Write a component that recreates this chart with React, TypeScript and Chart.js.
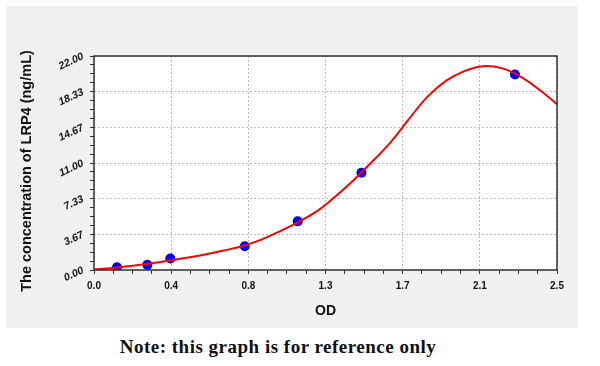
import React, { useEffect, useRef } from "react";
import { Chart, registerables } from "chart.js";

Chart.register(...registerables);

// Fitted standard curve
const curveOD = [0, 0.1, 0.2, 0.3, 0.4, 0.5, 0.6, 0.7, 0.8, 0.9, 1.0, 1.1, 1.2, 1.3, 1.4, 1.5, 1.6, 1.7, 1.8, 1.9, 2.0, 2.1, 2.2, 2.3, 2.4, 2.5];
const curveConc = [0.05, 0.2, 0.42, 0.67, 0.95, 1.25, 1.6, 2.0, 2.45, 3.1, 3.95, 4.9, 6.0, 7.5, 9.2, 11.1, 13.1, 15.5, 17.8, 19.45, 20.45, 20.95, 20.75, 19.9, 18.6, 17.05];

// Measured standards
const pointOD = [0.124, 0.288, 0.412, 0.814, 1.1, 1.444, 2.273];
const pointConc = [0.29, 0.53, 1.18, 2.44, 5.0, 10.0, 20.1];

// Axes
const xTickLabels = ["0.0", "0.4", "0.8", "1.3", "1.7", "2.1", "2.5"];
const yTickLabels = ["0.00", "3.67", "7.33", "11.00", "14.67", "18.33", "22.00"];
const X_MAX = 2.5;
const Y_MAX = 22;
const MINOR = 4;

const xTitle = "OD";
const yTitle = "The concentration of LRP4 (ng/mL)";
const noteText = "Note: this graph is for reference only";

const SANS = "'Liberation Sans', Arial, sans-serif";

function majorMinorTicks(max: number, majors: number) {
  const n = majors * MINOR;
  const arr: { value: number }[] = [];
  for (let i = 0; i <= n; i++) arr.push({ value: (i * max) / n });
  return arr;
}

export default function App() {
  const ref = useRef<HTMLCanvasElement>(null);

  useEffect(() => {
    if (!ref.current) return;
    Chart.defaults.font.family = SANS;

    const framePlugin = {
      id: "frame",
      beforeDraw(chart: any) {
        const { ctx, chartArea: a } = chart;
        ctx.save();
        ctx.fillStyle = "#ffffff";
        ctx.fillRect(a.left, a.top, a.right - a.left, a.bottom - a.top);
        ctx.restore();
      },
      afterDraw(chart: any) {
        const { ctx, chartArea: a } = chart;
        ctx.save();
        ctx.strokeStyle = "#333333";
        ctx.lineWidth = 1.5;
        ctx.strokeRect(a.left, a.top, a.right - a.left, a.bottom - a.top);
        ctx.translate(21, 165);
        ctx.rotate(-Math.PI / 2);
        ctx.font = `bold 14.5px ${SANS}`;
        ctx.fillStyle = "#111111";
        ctx.textAlign = "center";
        ctx.textBaseline = "middle";
        ctx.fillText(yTitle, 0, 0);
        ctx.restore();
      },
    };

    const chart = new Chart(ref.current, {
      type: "scatter",
      data: {
        datasets: [
          {
            label: "curve",
            data: curveOD.map((x, i) => ({ x, y: curveConc[i] })),
            showLine: true,
            borderColor: "#ff0000",
            borderWidth: 2,
            pointRadius: 0,
            tension: 0.4,
          },
          {
            label: "standards",
            data: pointOD.map((x, i) => ({ x, y: pointConc[i] })),
            backgroundColor: "#0000ff",
            borderWidth: 0,
            pointRadius: 5,
          },
        ],
      },
      options: {
        animation: false,
        responsive: false,
        layout: { padding: { left: 0, right: 21, top: 50, bottom: 0 } },
        plugins: { legend: { display: false }, tooltip: { enabled: false } },
        scales: {
          x: {
            type: "linear",
            min: 0,
            max: X_MAX,
            afterBuildTicks: (s: any) => {
              s.ticks = majorMinorTicks(X_MAX, xTickLabels.length - 1);
            },
            afterFit: (s: any) => {
              s.height = 58;
            },
            ticks: {
              autoSkip: false,
              maxRotation: 0,
              minRotation: 0,
              padding: 6,
              color: "#111111",
              font: { size: 10, weight: "bold" },
              callback: (_v: any, i: number) => (i % MINOR === 0 ? xTickLabels[i / MINOR] : ""),
            },
            grid: {
              color: (c: any) => (c.index % MINOR === 0 ? "#bdbdbd" : "rgba(0,0,0,0)"),
              lineWidth: 1,
              tickColor: "#333333",
              tickLength: 4,
              tickWidth: 1,
            },
            border: { display: false, dash: [2, 2] },
            title: {
              display: true,
              text: xTitle,
              color: "#111111",
              font: { size: 14, weight: "bold" },
              padding: { top: 0, bottom: 8 },
            },
          },
          y: {
            type: "linear",
            min: 0,
            max: Y_MAX,
            afterBuildTicks: (s: any) => {
              s.ticks = majorMinorTicks(Y_MAX, yTickLabels.length - 1);
            },
            afterFit: (s: any) => {
              s.width = 88;
            },
            ticks: {
              autoSkip: false,
              minRotation: 25,
              maxRotation: 25,
              padding: 7,
              color: "#111111",
              font: { size: 10.5, weight: "bold", style: "italic" },
              callback: (_v: any, i: number) => (i % MINOR === 0 ? yTickLabels[i / MINOR] : ""),
            },
            grid: {
              color: (c: any) => (c.index % MINOR === 0 ? "#bdbdbd" : "rgba(0,0,0,0)"),
              lineWidth: 1,
              tickColor: "#333333",
              tickLength: 4,
              tickWidth: 1,
            },
            border: { display: false, dash: [2, 2] },
          },
        },
      },
      plugins: [framePlugin],
    } as any);

    return () => chart.destroy();
  }, []);

  return (
    <div style={{ position: "absolute", left: 0, top: 0, width: 600, height: 366, background: "#ffffff" }}>
      <div style={{ position: "absolute", left: 6, top: 6, width: 572, height: 322, background: "#f0f0f0" }}>
        <canvas ref={ref} width={572} height={322} style={{ display: "block", width: 572, height: 322 }} />
      </div>
      <div
        style={{
          position: "absolute",
          left: 0,
          top: 337,
          width: 556,
          textAlign: "center",
          fontFamily: "'Liberation Serif', 'Times New Roman', serif",
          fontWeight: "bold",
          fontSize: 19,
          lineHeight: "20px",
          letterSpacing: 0.5,
          color: "#111111",
          whiteSpace: "nowrap",
        }}
      >
        {noteText}
      </div>
    </div>
  );
}
